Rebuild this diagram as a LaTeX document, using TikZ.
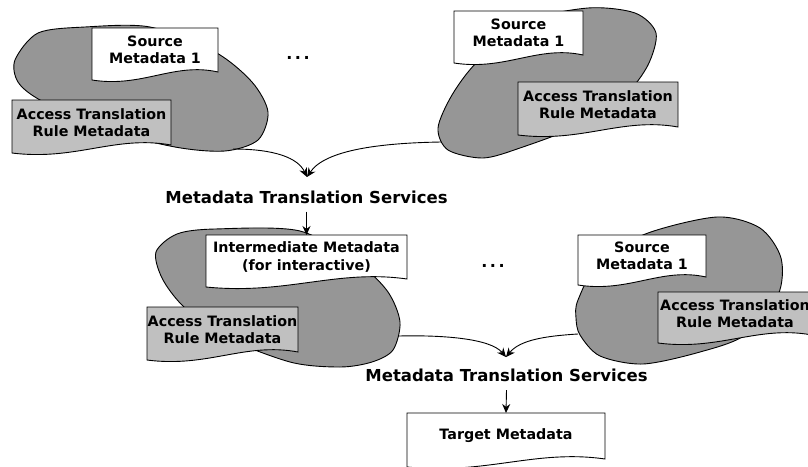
\documentclass[tikz,border=0pt]{standalone}
\usepackage{fontspec}
\setmainfont{DejaVu Sans}
\usetikzlibrary{arrows.meta}
\definecolor{blobgray}{RGB}{150,150,150}
\definecolor{rulegray}{RGB}{192,192,192}
\tikzset{
 blob/.style={draw=black, fill=blobgray, line width=0.9pt},
 docshape/.style={draw=black, line width=0.9pt},
 doctext/.style={font=\fontsize{14.3}{17.5}\selectfont\bfseries, align=center, inner sep=0pt},
 titletext/.style={font=\fontsize{16.5}{20}\selectfont\bfseries, inner sep=0pt},
 dotstext/.style={font=\fontsize{16}{18}\selectfont\bfseries, inner sep=0pt},
 conn/.style={draw=black, line width=0.9pt, -{Stealth[length=9pt,width=8pt]}},
}
\newcommand\docbox[7]{%
 \path[docshape, fill=#6] (#2,#3) -- (#4,#3) -- (#4,#5-8) .. controls ({#4-0.35*(#4-#2)},#5-18) and ({#2+0.4*(#4-#2)},#5+8) .. (#2,#5) -- cycle;
 \coordinate (#1-top) at ({(#2+#4)/2},#3);
 \node[doctext] (#1) at ({(#2+#4)/2},{(#3+#5-8)/2}) {#7};
}
\begin{document}
\begin{tikzpicture}[x=1pt,y=-1pt]
\useasboundingbox (0,0) rectangle (808,466);
\clip (0,0) rectangle (808,466);
% blobs
\path[blob] plot[smooth cycle] coordinates {(15,60) (38,33) (85,27) (150,27) (215,52) (252,82) (268,112) (258,140) (225,151) (175,147) (100,128) (40,100) (18,82)};
\path[blob] plot[smooth cycle] coordinates {(438,128) (452,95) (477,62) (525,22) (588,8) (635,13) (656,33) (648,65) (625,95) (580,125) (520,148) (483,158) (448,150)};
\path[blob] plot[smooth cycle] coordinates {(156,252) (177,234) (215,229) (300,231) (360,265) (388,292) (400,322) (393,350) (372,362) (340,367) (290,362) (220,335) (182,305) (162,278)};
\path[blob] plot[smooth cycle] coordinates {(578,300) (600,260) (648,233) (717,217) (760,228) (781,258) (778,295) (745,335) (700,352) (643,364) (600,356) (580,335) (576,318)};
% documents
\docbox{srcA}{92}{28}{218}{80}{white}{Source\\Metadata 1}
\docbox{ruleA}{12}{100}{171}{153}{rulegray}{Access Translation\\Rule Metadata}
\docbox{srcB}{454}{11}{583}{63}{white}{Source\\Metadata 1}
\docbox{ruleB}{518}{82}{678}{135}{rulegray}{Access Translation\\Rule Metadata}
\docbox{inter}{206}{235}{407}{287}{white}{Intermediate Metadata\\(for interactive)}
\docbox{ruleC}{147}{307}{298}{360}{rulegray}{Access Translation\\Rule Metadata}
\docbox{srcD}{578}{235}{706}{285}{white}{Source\\Metadata 1}
\docbox{ruleD}{658}{292}{812}{343}{rulegray}{Access Translation\\Rule Metadata}
\docbox{target}{407}{413}{605}{467}{white}{Target Metadata}
% dots
\node[dotstext] (dots1) at (298,58) {.\hspace{2.5pt}.\hspace{2.5pt}.};
\node[dotstext] (dots2) at (493,266) {.\hspace{2.5pt}.\hspace{2.5pt}.};
% titles
\node[titletext] (mts1) at (306.5,197) {Metadata Translation Services};
\node[titletext] (mts2) at (506.5,375.5) {Metadata Translation Services};
% connectors
\coordinate (b1out) at (233,149);
\coordinate (b2out) at (441,142);
\coordinate (b3out) at (399,336);
\coordinate (b4out) at (578,334);
\coordinate (m1) at (307,177);
\coordinate (m2) at (506,357);
\draw[conn] (b1out) .. controls (275,149) and (298,158) .. (m1);
\draw[conn] (b2out) .. controls (380,143) and (325,150) .. (m1);
\draw[conn] (b3out) .. controls (440,335) and (490,338) .. (m2);
\draw[conn] (b4out) .. controls (545,336) and (520,340) .. (m2);
\draw[conn] ([yshift=-8pt]mts1.south) -- (inter-top);
\draw[conn] ([yshift=-8pt]mts2.south) -- (target-top);
\end{tikzpicture}
\end{document}
